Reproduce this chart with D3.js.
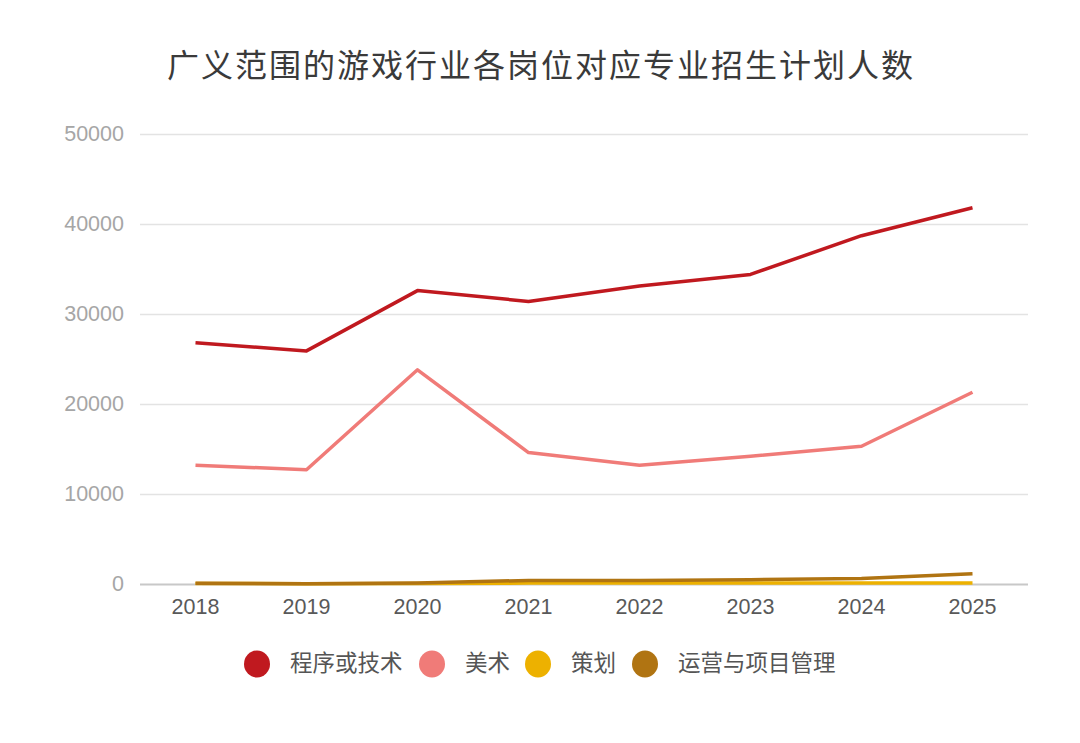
<!DOCTYPE html>
<html><head><meta charset="utf-8">
<script src="https://cdn.jsdelivr.net/npm/d3@7"></script>
<style>body{margin:0;background:#fff;}svg{display:block;font-family:"Noto Sans CJK SC","Liberation Sans",sans-serif;}</style>
</head><body>
<svg id="c" width="1080" height="743"></svg>
<script>
const title = "广义范围的游戏行业各岗位对应专业招生计划人数";
const years = ["2018","2019","2020","2021","2022","2023","2024","2025"];
const seriesNames = ["程序或技术","美术","策划","运营与项目管理"];
const colors = ["#C0191F","#F07B78","#EDB100","#B07412"];
const programming = [26800,25900,32600,31400,33100,34400,38700,41800];
const art = [13200,12700,23800,14600,13200,14200,15300,21300];
const design = [60,40,60,100,100,110,120,120];
const operations = [80,40,100,400,380,480,600,1150];
const yTicks = [0,10000,20000,30000,40000,50000];
const allSeries = [programming, art, design, operations];

(function(){
const svg = d3.select("#c");
const pL = 140, pR = 1028, pT = 134, pB = 584;
const x = d3.scaleBand().domain(years).range([pL,pR]);
const y = d3.scaleLinear().domain([0,50000]).range([pB,pT]);

svg.append("text").attr("x",541).attr("y",77).attr("text-anchor","middle")
  .attr("font-size",32).attr("letter-spacing",2).attr("fill","#3a3a3a").text(title);

const yAxis = d3.axisLeft(y).tickValues(yTicks).tickSize(-(pR-pL)).tickPadding(16).tickFormat(d3.format("d"));
const gy = svg.append("g").attr("transform",`translate(${pL},0)`).call(yAxis);
gy.select(".domain").remove();
gy.selectAll(".tick line").attr("stroke",d=>d===0?"#c8c8c8":"#e3e3e3").attr("stroke-width",d=>d===0?2:1.5);
gy.selectAll(".tick text").attr("font-size",21.5).attr("fill","#a6a6a6").attr("font-family","Liberation Sans, Arial, sans-serif");

const xAxis = d3.axisBottom(x).tickSize(0).tickPadding(15);
const gx = svg.append("g").attr("transform",`translate(0,${pB})`).call(xAxis);
gx.select(".domain").remove();
gx.selectAll(".tick text").attr("font-size",21.5).attr("fill","#595959").attr("font-family","Liberation Sans, Arial, sans-serif");

const line = d3.line().x((d,i)=>x(years[i])+x.bandwidth()/2).y(d=>y(d));
allSeries.forEach((s,i)=>{
  svg.append("path").datum(s).attr("d",line).attr("fill","none")
    .attr("stroke",colors[i]).attr("stroke-width",3.5).attr("stroke-linejoin","round");
});
const legendX = [257,432,538,645];
const lg = svg.append("g");
seriesNames.forEach((n,i)=>{
  lg.append("ellipse").attr("cx",legendX[i]).attr("cy",664).attr("rx",13).attr("ry",13.5).attr("fill",colors[i]);
  lg.append("text").attr("x",legendX[i]+33).attr("y",671).attr("font-size",22.5).attr("fill","#555").text(n);
});
})();
</script>
</body></html>
